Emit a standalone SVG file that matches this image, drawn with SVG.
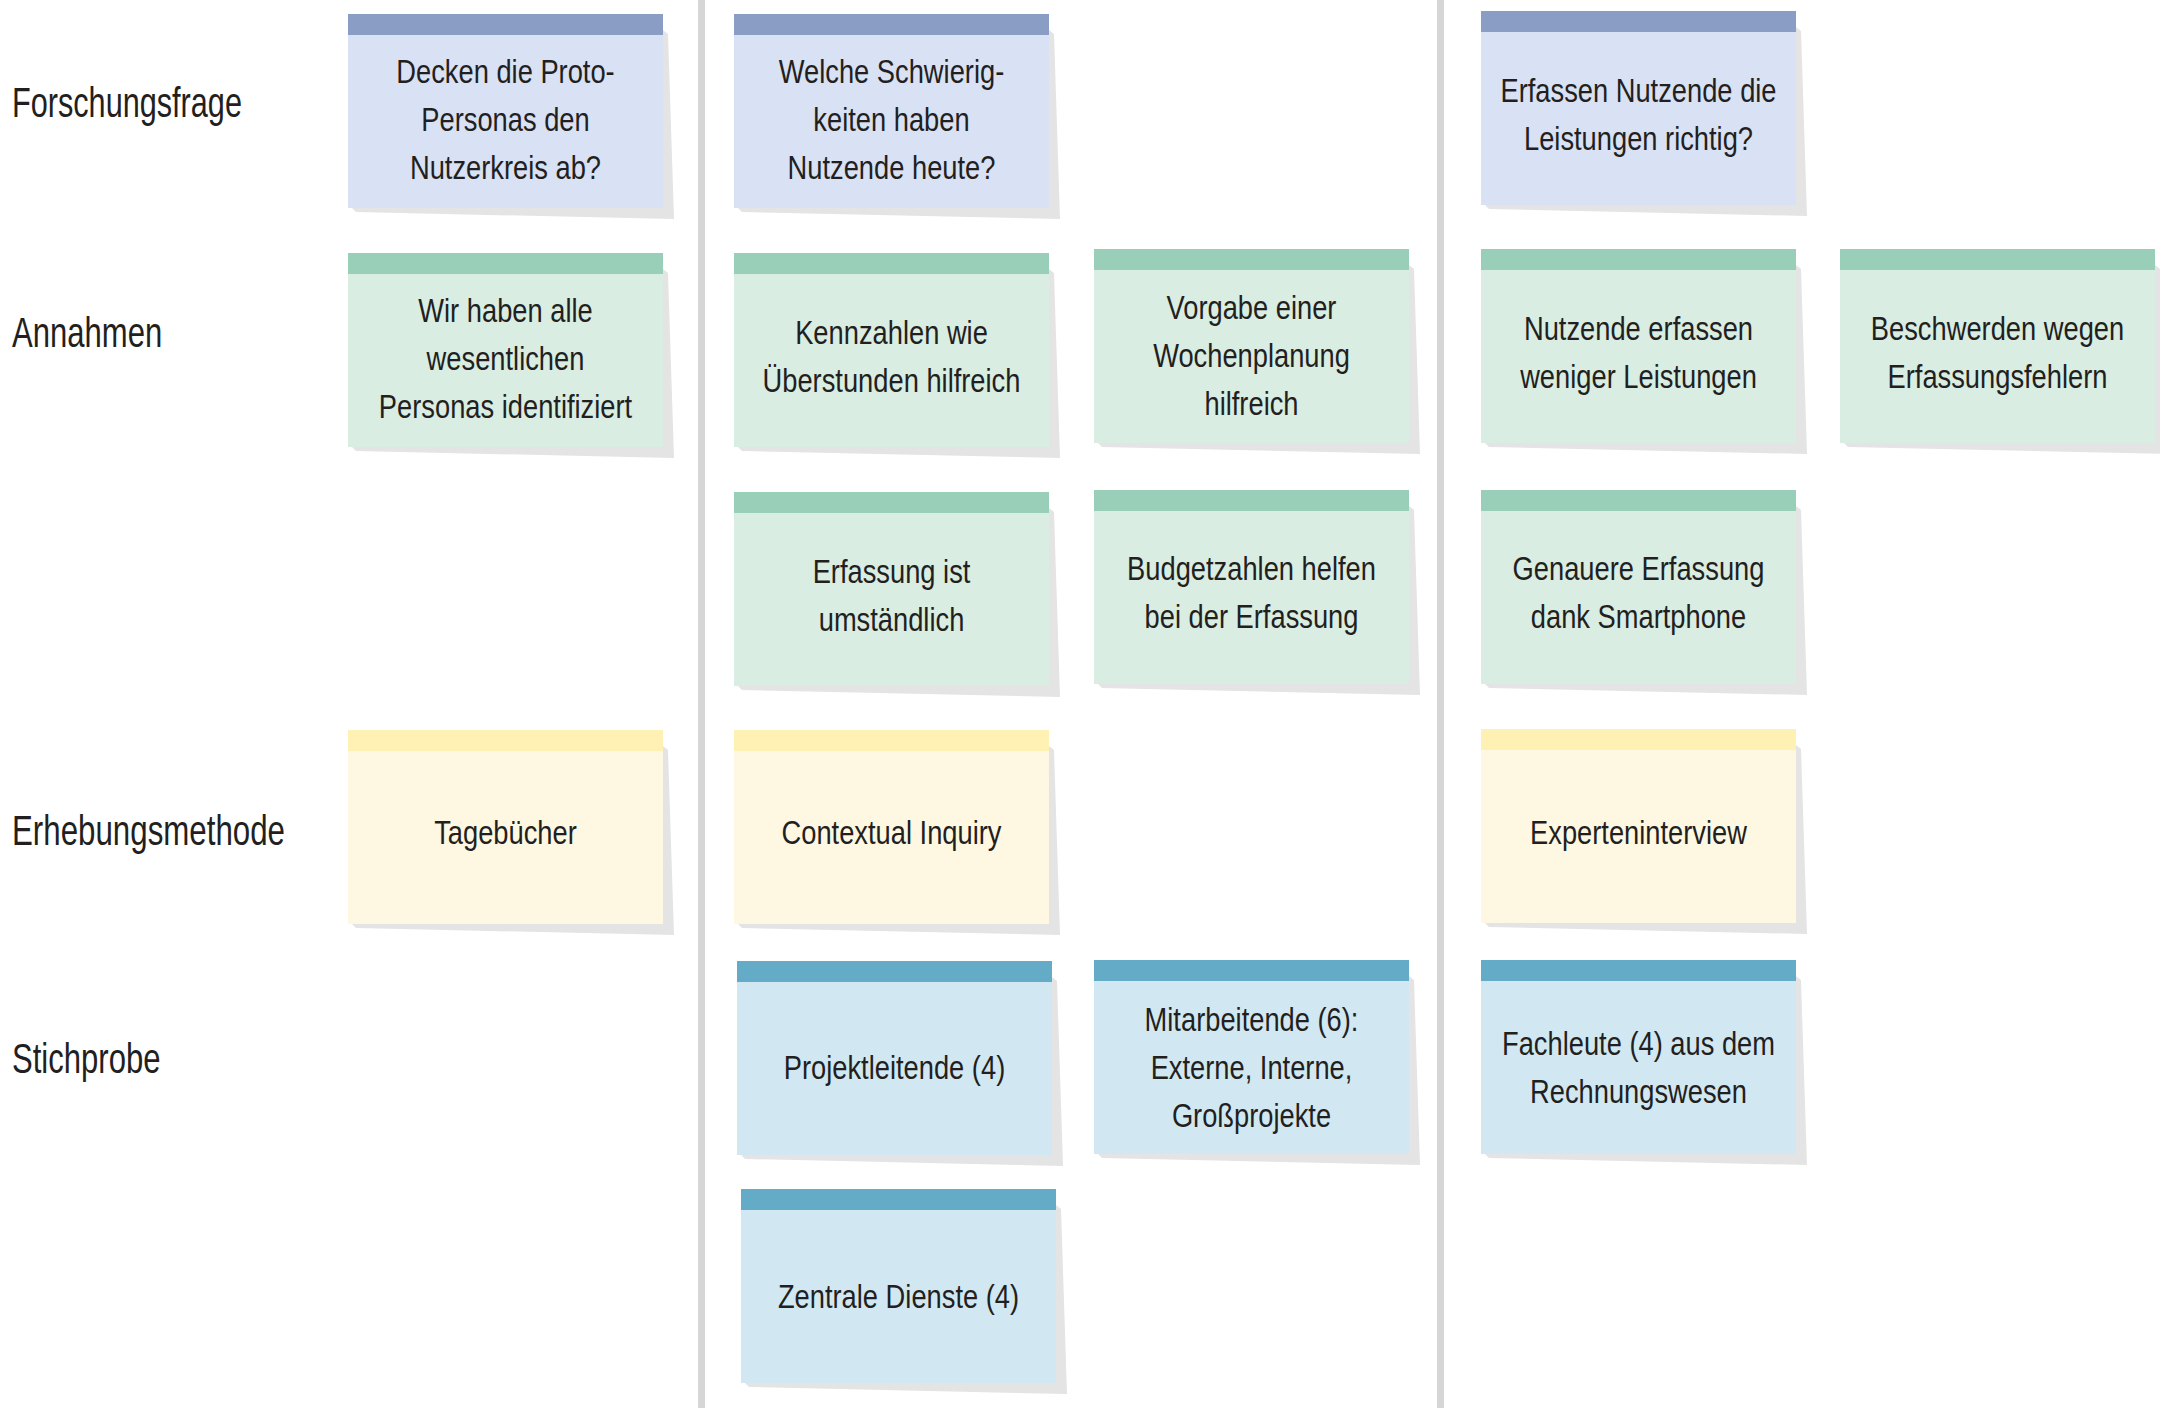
<svg xmlns="http://www.w3.org/2000/svg" xmlns:xlink="http://www.w3.org/1999/xlink" width="2160" height="1426" viewBox="0 0 2160 1426">
<style>
.lbl{font-family:"Liberation Sans",Arial,sans-serif;font-size:42px;fill:#231F20}
.t{font-family:"Liberation Sans",Arial,sans-serif;font-size:32.5px;fill:#231F20;text-anchor:middle}
.sh{fill:#E4E4E4}
.ffb{fill:#D9E1F4}.ffh{fill:#8A9DC5}
.anb{fill:#D9EDE3}.anh{fill:#99CFB9}
.erb{fill:#FEF8E3}.erh{fill:#FFF0B3}
.stb{fill:#D1E8F3}.sth{fill:#63ABC7}
.sep{fill:#D6D6D6}
</style>
<defs>
<polygon id="shadow" points="4,194 315,16 320,20 326,205 8,198"/>
</defs>
<rect width="2160" height="1426" fill="#FFFFFF"/>
<g id="separators">
<rect class="sep" x="698" y="0" width="7" height="1408"/>
<rect class="sep" x="1437" y="0" width="7" height="1408"/>
</g>
<g id="labels">
<text class="lbl" x="12" y="117" transform="translate(12,0) scale(0.73,1) translate(-12,0)">Forschungsfrage</text>
<text class="lbl" x="12" y="347" transform="translate(12,0) scale(0.74,1) translate(-12,0)">Annahmen</text>
<text class="lbl" x="12" y="845" transform="translate(12,0) scale(0.745,1) translate(-12,0)">Erhebungsmethode</text>
<text class="lbl" x="12" y="1073" transform="translate(12,0) scale(0.74,1) translate(-12,0)">Stichprobe</text>
</g>
<g id="connectors"></g>

<g id="ff1" transform="translate(348,14)">
<use xlink:href="#shadow" class="sh"/><rect class="ffb" width="315" height="194"/><rect class="ffh" width="315" height="21"/>
<text class="t" transform="translate(157.5,69) scale(0.84,1)">Decken die Proto-</text>
<text class="t" transform="translate(157.5,117) scale(0.84,1)">Personas den</text>
<text class="t" transform="translate(157.5,165) scale(0.84,1)">Nutzerkreis ab?</text>
</g>
<g id="ff2" transform="translate(734,14)">
<use xlink:href="#shadow" class="sh"/><rect class="ffb" width="315" height="194"/><rect class="ffh" width="315" height="21"/>
<text class="t" transform="translate(157.5,69) scale(0.84,1)">Welche Schwierig-</text>
<text class="t" transform="translate(157.5,117) scale(0.84,1)">keiten haben</text>
<text class="t" transform="translate(157.5,165) scale(0.84,1)">Nutzende heute?</text>
</g>
<g id="ff4" transform="translate(1481,11)">
<use xlink:href="#shadow" class="sh"/><rect class="ffb" width="315" height="194"/><rect class="ffh" width="315" height="21"/>
<text class="t" transform="translate(157.5,90.5) scale(0.84,1)">Erfassen Nutzende die</text>
<text class="t" transform="translate(157.5,138.5) scale(0.84,1)">Leistungen richtig?</text>
</g>

<g id="an1" transform="translate(348,253)">
<use xlink:href="#shadow" class="sh"/><rect class="anb" width="315" height="194"/><rect class="anh" width="315" height="21"/>
<text class="t" transform="translate(157.5,69) scale(0.84,1)">Wir haben alle</text>
<text class="t" transform="translate(157.5,117) scale(0.84,1)">wesentlichen</text>
<text class="t" transform="translate(157.5,165) scale(0.84,1)">Personas identifiziert</text>
</g>
<g id="an2" transform="translate(734,253)">
<use xlink:href="#shadow" class="sh"/><rect class="anb" width="315" height="194"/><rect class="anh" width="315" height="21"/>
<text class="t" transform="translate(157.5,90.5) scale(0.84,1)">Kennzahlen wie</text>
<text class="t" transform="translate(157.5,138.5) scale(0.84,1)">Überstunden hilfreich</text>
</g>
<g id="an3" transform="translate(1094,249)">
<use xlink:href="#shadow" class="sh"/><rect class="anb" width="315" height="194"/><rect class="anh" width="315" height="21"/>
<text class="t" transform="translate(157.5,70) scale(0.84,1)">Vorgabe einer</text>
<text class="t" transform="translate(157.5,118) scale(0.84,1)">Wochenplanung</text>
<text class="t" transform="translate(157.5,166) scale(0.84,1)">hilfreich</text>
</g>
<g id="an4" transform="translate(1481,249)">
<use xlink:href="#shadow" class="sh"/><rect class="anb" width="315" height="194"/><rect class="anh" width="315" height="21"/>
<text class="t" transform="translate(157.5,90.5) scale(0.84,1)">Nutzende erfassen</text>
<text class="t" transform="translate(157.5,138.5) scale(0.84,1)">weniger Leistungen</text>
</g>
<g id="an5" transform="translate(1840,249)">
<use xlink:href="#shadow" class="sh"/><rect class="anb" width="315" height="194"/><rect class="anh" width="315" height="21"/>
<text class="t" transform="translate(157.5,90.5) scale(0.84,1)">Beschwerden wegen</text>
<text class="t" transform="translate(157.5,138.5) scale(0.84,1)">Erfassungsfehlern</text>
</g>
<g id="an6" transform="translate(734,492)">
<use xlink:href="#shadow" class="sh"/><rect class="anb" width="315" height="194"/><rect class="anh" width="315" height="21"/>
<text class="t" transform="translate(157.5,90.5) scale(0.84,1)">Erfassung ist</text>
<text class="t" transform="translate(157.5,138.5) scale(0.84,1)">umständlich</text>
</g>
<g id="an7" transform="translate(1094,490)">
<use xlink:href="#shadow" class="sh"/><rect class="anb" width="315" height="194"/><rect class="anh" width="315" height="21"/>
<text class="t" transform="translate(157.5,90) scale(0.84,1)">Budgetzahlen helfen</text>
<text class="t" transform="translate(157.5,138) scale(0.84,1)">bei der Erfassung</text>
</g>
<g id="an8" transform="translate(1481,490)">
<use xlink:href="#shadow" class="sh"/><rect class="anb" width="315" height="194"/><rect class="anh" width="315" height="21"/>
<text class="t" transform="translate(157.5,90) scale(0.84,1)">Genauere Erfassung</text>
<text class="t" transform="translate(157.5,138) scale(0.84,1)">dank Smartphone</text>
</g>

<g id="er1" transform="translate(348,730)">
<use xlink:href="#shadow" class="sh"/><rect class="erb" width="315" height="194"/><rect class="erh" width="315" height="21"/>
<text class="t" transform="translate(157.5,114) scale(0.84,1)">Tagebücher</text>
</g>
<g id="er2" transform="translate(734,730)">
<use xlink:href="#shadow" class="sh"/><rect class="erb" width="315" height="194"/><rect class="erh" width="315" height="21"/>
<text class="t" transform="translate(157.5,114) scale(0.84,1)">Contextual Inquiry</text>
</g>
<g id="er4" transform="translate(1481,729)">
<use xlink:href="#shadow" class="sh"/><rect class="erb" width="315" height="194"/><rect class="erh" width="315" height="21"/>
<text class="t" transform="translate(157.5,115) scale(0.84,1)">Experteninterview</text>
</g>

<g id="st1" transform="translate(737,961)">
<use xlink:href="#shadow" class="sh"/><rect class="stb" width="315" height="194"/><rect class="sth" width="315" height="21"/>
<text class="t" transform="translate(157.5,118) scale(0.84,1)">Projektleitende (4)</text>
</g>
<g id="st2" transform="translate(1094,960)">
<use xlink:href="#shadow" class="sh"/><rect class="stb" width="315" height="194"/><rect class="sth" width="315" height="21"/>
<text class="t" transform="translate(157.5,70.5) scale(0.84,1)">Mitarbeitende (6):</text>
<text class="t" transform="translate(157.5,118.5) scale(0.84,1)">Externe, Interne,</text>
<text class="t" transform="translate(157.5,166.5) scale(0.84,1)">Großprojekte</text>
</g>
<g id="st3" transform="translate(1481,960)">
<use xlink:href="#shadow" class="sh"/><rect class="stb" width="315" height="194"/><rect class="sth" width="315" height="21"/>
<text class="t" transform="translate(157.5,94.5) scale(0.84,1)">Fachleute (4) aus dem</text>
<text class="t" transform="translate(157.5,142.5) scale(0.84,1)">Rechnungswesen</text>
</g>
<g id="st4" transform="translate(741,1189)">
<use xlink:href="#shadow" class="sh"/><rect class="stb" width="315" height="194"/><rect class="sth" width="315" height="21"/>
<text class="t" transform="translate(157.5,119) scale(0.84,1)">Zentrale Dienste (4)</text>
</g>
</svg>
